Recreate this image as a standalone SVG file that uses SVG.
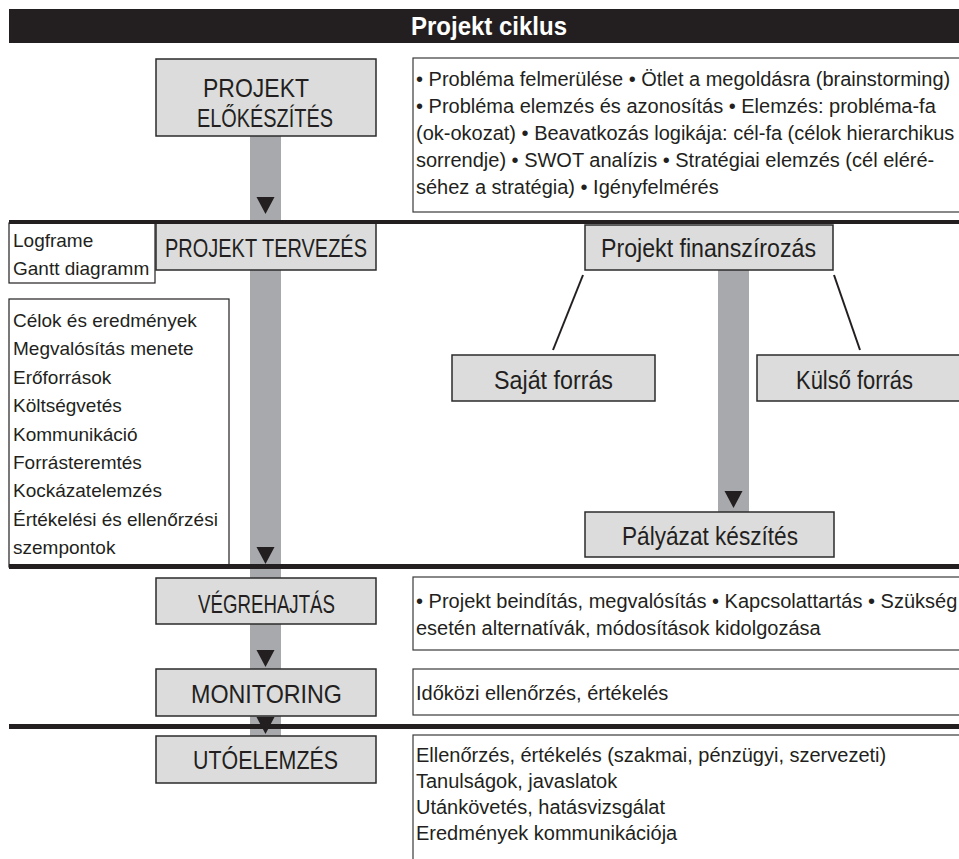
<svg xmlns="http://www.w3.org/2000/svg" width="959" height="859" viewBox="0 0 959 859">
<style>
.box{fill:#dcdcdd;stroke:#2b2b2b;stroke-width:1.5}
.tbox{fill:#fff;stroke:#3a3a3a;stroke-width:1.2}
.bar{fill:#a8a9ac}
.sep{fill:#231f20}
.arr{fill:#231f20}
.lnk{stroke:#231f20;stroke-width:2;fill:none}
text{font-family:"Liberation Sans",Arial,sans-serif;fill:#231f20}
.lbl{font-size:25px}
.txt{font-size:20px}
.lst{font-size:19px}
.ttl{font-size:25px;font-weight:bold;fill:#fff}
</style>
<rect width="959" height="859" fill="#fff"/>
<g id="title">
<rect class="sep" x="9" y="9" width="950" height="34"/>
<text class="ttl" x="411" y="35" textLength="156" lengthAdjust="spacingAndGlyphs">Projekt ciklus</text>
</g>
<g id="connectors">
<rect class="bar" x="250" y="136" width="31" height="600"/>
<rect class="bar" x="718" y="270" width="31" height="242"/>
<line class="lnk" x1="583" y1="275" x2="553" y2="350"/>
<line class="lnk" x1="834" y1="275" x2="860" y2="350"/>
</g>
<g id="n-elokeszites">
<rect class="box" x="156" y="59" width="220" height="77"/>
<text class="lbl" x="203" y="97" textLength="106" lengthAdjust="spacingAndGlyphs">PROJEKT</text>
<text class="lbl" x="197" y="127" textLength="136" lengthAdjust="spacingAndGlyphs">ELŐKÉSZÍTÉS</text>
</g>
<g id="t-elokeszites">
<rect class="tbox" x="413" y="58" width="560" height="154"/>
<text class="txt" x="416" y="86">• Probléma felmerülése • Ötlet a megoldásra (brainstorming)</text>
<text class="txt" x="416" y="113">• Probléma elemzés és azonosítás • Elemzés: probléma-fa</text>
<text class="txt" x="416" y="140">(ok-okozat) • Beavatkozás logikája: cél-fa (célok hierarchikus</text>
<text class="txt" x="416" y="167">sorrendje) • SWOT analízis • Stratégiai elemzés (cél eléré-</text>
<text class="txt" x="416" y="194">séhez a stratégia) • Igényfelmérés</text>
</g>
<g id="n-logframe">
<rect class="tbox" x="9" y="223" width="146" height="60" style="stroke:#231f20"/>
<text class="lst" x="13" y="247">Logframe</text>
<text class="lst" x="13" y="275">Gantt diagramm</text>
</g>
<g id="n-tervezes">
<rect class="box" x="156" y="223" width="220" height="47"/>
<text class="lbl" x="165" y="257" textLength="202" lengthAdjust="spacingAndGlyphs">PROJEKT TERVEZÉS</text>
</g>
<g id="t-tervezes">
<rect class="tbox" x="9" y="299" width="220" height="268" style="stroke:#231f20"/>
<text class="lst" x="13" y="327">Célok és eredmények</text>
<text class="lst" x="13" y="355.4">Megvalósítás menete</text>
<text class="lst" x="13" y="383.8">Erőforrások</text>
<text class="lst" x="13" y="412.2">Költségvetés</text>
<text class="lst" x="13" y="440.6">Kommunikáció</text>
<text class="lst" x="13" y="469">Forrásteremtés</text>
<text class="lst" x="13" y="497.4">Kockázatelemzés</text>
<text class="lst" x="13" y="525.8">Értékelési és ellenőrzési</text>
<text class="lst" x="13" y="554.2">szempontok</text>
</g>
<g id="n-finanszirozas">
<rect class="box" x="585" y="225" width="248" height="45"/>
<text class="lbl" x="601" y="257" textLength="215" lengthAdjust="spacingAndGlyphs">Projekt finanszírozás</text>
</g>
<g id="n-sajat">
<rect class="box" x="452" y="355" width="203" height="46"/>
<text class="lbl" x="494" y="389" textLength="119" lengthAdjust="spacingAndGlyphs">Saját forrás</text>
</g>
<g id="n-kulso">
<rect class="box" x="757" y="355" width="215" height="46"/>
<text class="lbl" x="796" y="389" textLength="117" lengthAdjust="spacingAndGlyphs">Külső forrás</text>
</g>
<g id="n-palyazat">
<rect class="box" x="585" y="512" width="249" height="45"/>
<text class="lbl" x="622" y="545" textLength="176" lengthAdjust="spacingAndGlyphs">Pályázat készítés</text>
</g>
<g id="n-vegrehajtas">
<rect class="box" x="156" y="578" width="220" height="46"/>
<text class="lbl" x="198" y="613" textLength="137" lengthAdjust="spacingAndGlyphs">VÉGREHAJTÁS</text>
</g>
<g id="t-vegrehajtas">
<rect class="tbox" x="413" y="577" width="560" height="73"/>
<text class="txt" x="416" y="608">• Projekt beindítás, megvalósítás • Kapcsolattartás • Szükség</text>
<text class="txt" x="416" y="635">esetén alternatívák, módosítások kidolgozása</text>
</g>
<g id="n-monitoring">
<rect class="box" x="156" y="669" width="220" height="47"/>
<text class="lbl" x="191" y="703" textLength="151" lengthAdjust="spacingAndGlyphs">MONITORING</text>
</g>
<g id="t-monitoring">
<rect class="tbox" x="413" y="669" width="560" height="46"/>
<text class="txt" x="416" y="700">Időközi ellenőrzés, értékelés</text>
</g>
<g id="n-utoelemzes">
<rect class="box" x="156" y="736" width="220" height="47"/>
<text class="lbl" x="193" y="769" textLength="145" lengthAdjust="spacingAndGlyphs">UTÓELEMZÉS</text>
</g>
<g id="t-utoelemzes">
<rect class="tbox" x="413" y="735" width="560" height="140"/>
<text class="txt" x="416" y="762">Ellenőrzés, értékelés (szakmai, pénzügyi, szervezeti)</text>
<text class="txt" x="416" y="788">Tanulságok, javaslatok</text>
<text class="txt" x="416" y="814">Utánkövetés, hatásvizsgálat</text>
<text class="txt" x="416" y="840">Eredmények kommunikációja</text>
</g>
<g id="separators">
<rect class="sep" x="9" y="220" width="950" height="4"/>
<rect class="sep" x="9" y="564" width="950" height="5"/>
<rect class="sep" x="9" y="724" width="950" height="5"/>
</g>
<g id="arrows">
<polygon class="arr" points="256.5,197 274.5,197 265.5,214"/>
<polygon class="arr" points="256.5,547 274.5,547 265.5,564"/>
<polygon class="arr" points="256.5,650 274.5,650 265.5,667"/>
<polygon class="arr" points="256.5,717 274.5,717 265.5,734"/>
<polygon class="arr" points="724.5,491 742.5,491 733.5,508"/>
</g>
</svg>
